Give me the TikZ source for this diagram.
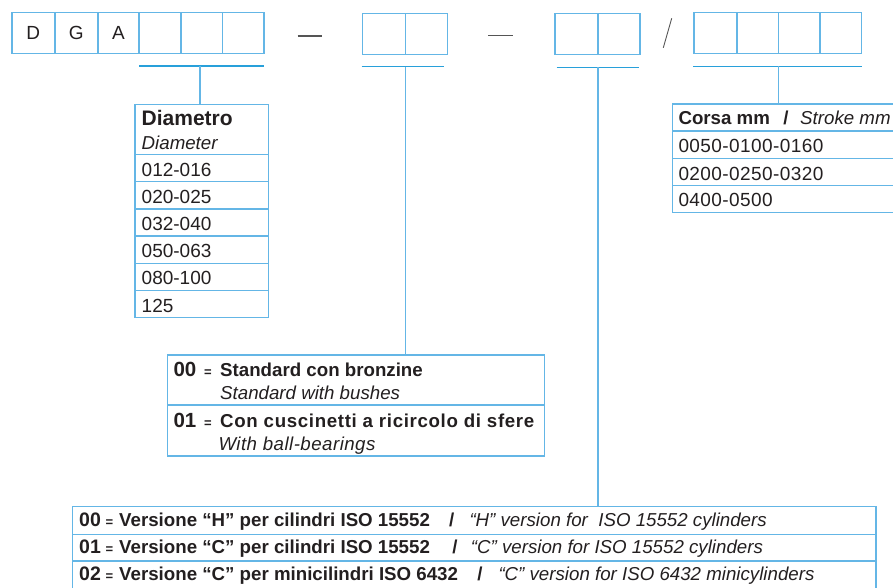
\documentclass[tikz,border=0pt]{standalone}
\usepackage{fontspec}
\setmainfont{Liberation Sans}
\definecolor{lb}{RGB}{100,182,230}
\definecolor{db}{RGB}{40,160,218}
\definecolor{tx}{RGB}{35,31,32}
\definecolor{gr}{RGB}{85,85,85}
\begin{document}
\begin{tikzpicture}[x=1pt,y=-1pt,
  cellbox/.style={draw=lb, line width=1.5pt, inner sep=0pt, anchor=north west, text=tx,
    font=\fontsize{19}{19}\selectfont},
  tline/.style={draw=lb, line width=1.3pt},
  uline/.style={draw=db, line width=1.2pt},
  rt/.style={anchor=base west, inner sep=0pt, text=tx, font=\fontsize{19}{19}\selectfont},
  bt/.style={anchor=base west, inner sep=0pt, text=tx, font=\fontsize{18.7}{19}\selectfont\bfseries},
  it/.style={anchor=base west, inner sep=0pt, text=tx, font=\fontsize{18.7}{19}\selectfont\itshape},
  eq/.style={anchor=base, inner sep=0pt, text=tx, font=\fontsize{13}{13}\selectfont\bfseries},
  sl/.style={anchor=base, inner sep=0pt, text=tx, font=\fontsize{18.7}{19}\selectfont\bfseries}]
\useasboundingbox (0,0) rectangle (893,588);
% group 1
\node[cellbox, minimum width=43pt, minimum height=40.7pt] (a1) at (11,12) {D};
\node[cellbox, minimum width=43pt, minimum height=40.7pt] (a2) at (54,12) {G};
\node[cellbox, minimum width=41.3pt, minimum height=40.7pt] (a3) at (97,12) {A};
\node[cellbox, minimum width=42pt, minimum height=40.7pt] (a4) at (138.3,12) {};
\node[cellbox, minimum width=41.4pt, minimum height=40.7pt] (a5) at (180.3,12) {};
\node[cellbox, minimum width=41.6pt, minimum height=40.7pt] (a6) at (221.7,12) {};
% group 2
\node[cellbox, minimum width=43pt, minimum height=41pt] (b1) at (361.7,12.7) {};
\node[cellbox, minimum width=42pt, minimum height=41pt] (b2) at (404.7,12.7) {};
% group 3
\node[cellbox, minimum width=43pt, minimum height=41pt] (c1) at (554.3,12.7) {};
\node[cellbox, minimum width=41.7pt, minimum height=41pt] (c2) at (597.3,12.7) {};
% group 4
\node[cellbox, minimum width=43pt, minimum height=41pt] (d1) at (693,11.7) {};
\node[cellbox, minimum width=41.7pt, minimum height=41pt] (d2) at (736,11.7) {};
\node[cellbox, minimum width=41.6pt, minimum height=41pt] (d3) at (777.7,11.7) {};
\node[cellbox, minimum width=41.4pt, minimum height=41pt] (d4) at (819.3,11.7) {};
% separators
\coordinate (s1a) at (297.7,36); \coordinate (s1b) at (321.7,36);
\coordinate (s2a) at (488.3,35.7); \coordinate (s2b) at (512.7,35.7);
\coordinate (s3a) at (663.3,47.7); \coordinate (s3b) at (671.7,18.3);
\draw[gr, line width=1.3pt] (s1a) -- (s1b);
\draw[gr, line width=1.3pt] (s2a) -- (s2b);
\draw[gr, line width=0.9pt] (s3a) -- (s3b);
% underlines and connectors
\coordinate (u1a) at (139,66); \coordinate (u1b) at (264,66); \coordinate (u1m) at (200,66);
\coordinate (u2a) at (361.7,66.7); \coordinate (u2b) at (444,66.7); \coordinate (u2m) at (405.3,66.7);
\coordinate (u3a) at (556.7,67.3); \coordinate (u3b) at (639,67.3); \coordinate (u3m) at (598,67.3);
\coordinate (u4a) at (693,66.3); \coordinate (u4b) at (861.7,66.3); \coordinate (u4m) at (778.7,66.3);
\coordinate (diamtop) at (200,104.3);
\coordinate (stdtop) at (405.3,355);
\coordinate (vertop) at (598,506.7);
\coordinate (strtop) at (778.7,104);
\draw[uline] (u1a) -- (u1b); \draw[tline] (u1m) -- (diamtop);
\draw[uline] (u2a) -- (u2b); \draw[tline] (u2m) -- (stdtop);
\draw[uline] (u3a) -- (u3b); \draw[tline] (u3m) -- (vertop);
\draw[uline] (u4a) -- (u4b); \draw[tline] (u4m) -- (strtop);
% Diametro table
\draw[tline] (135,104.3) rectangle (268.7,317.7);
\foreach \yy in {154.3,181.7,209,236,263.3,290.3} \draw[tline] (135,\yy) -- (268.7,\yy);
\node[bt, font=\fontsize{21}{21}\selectfont\bfseries] (dh1) at (141.5,126) {Diametro};
\node[it] (dh2) at (141.5,149.3) {Diameter};
\node[rt] (dr1) at (141.5,176) {012-016};
\node[rt] (dr2) at (141.5,203.3) {020-025};
\node[rt] (dr3) at (141.5,230.5) {032-040};
\node[rt] (dr4) at (141.5,257.8) {050-063};
\node[rt] (dr5) at (141.5,284.8) {080-100};
\node[rt] (dr6) at (141.5,312) {125};
% Stroke table
\draw[tline] (672.7,104) rectangle (905,212.3);
\foreach \yy in {131,158.3,185.7} \draw[tline] (672.7,\yy) -- (905,\yy);
\node[bt] (sh1) at (678.3,125) {Corsa mm};
\node[sl] (sh2) at (786,125) {/};
\node[it] (sh3) at (800,125) {Stroke mm};
\tikzset{srow/.style={rt, font=\fontsize{19}{19}\selectfont\addfontfeature{LetterSpace=2.2}}}
\node[srow] (sr1) at (678.3,152.7) {0050-0100-0160};
\node[srow] (sr2) at (678.3,180) {0200-0250-0320};
\node[srow] (sr3) at (678.3,206.7) {0400-0500};
% Standard table
\draw[tline] (167.3,355) rectangle (544.3,456);
\draw[tline] (167.3,405) -- (544.3,405);
\node[bt, font=\fontsize{20.5}{20}\selectfont\bfseries] (st0) at (173.3,376.7) {00};
\node[eq] (st0e) at (208,376.7) {=};
\node[bt] (st1) at (220,376.7) {Standard con bronzine};
\node[it] (st2) at (220,399) {Standard with bushes};
\node[bt, font=\fontsize{20.5}{20}\selectfont\bfseries] (st3) at (173.3,427) {01};
\node[eq] (st3e) at (208,427) {=};
\node[bt, font=\fontsize{18.7}{19}\selectfont\bfseries\addfontfeature{LetterSpace=3.5}] (st4) at (220,427) {Con cuscinetti a ricircolo di sfere};
\node[it, font=\fontsize{18.7}{19}\selectfont\itshape\addfontfeature{LetterSpace=2.5}] (st5) at (218.3,450) {With ball-bearings};
% Version table
\draw[tline] (72.7,506.7) rectangle (876,589);
\draw[tline] (72.7,534.3) -- (876,534.3);
\draw[tline] (72.7,561) -- (876,561);
\tikzset{vn/.style={bt, font=\fontsize{19.5}{19}\selectfont\bfseries}}
\node[vn] (v1n) at (79,526.7) {00};
\node[eq] (v1e) at (109.5,526.7) {=};
\node[bt] (v1a) at (119,526.7) {Versione “H” per cilindri ISO 15552};
\node[sl] (v1b) at (451.7,526.7) {/};
\node[it] (v1c) at (469.3,526.7) {“H” version for\ \ ISO 15552 cylinders};
\node[vn] (v2n) at (79,553.3) {01};
\node[eq] (v2e) at (109.5,553.3) {=};
\node[bt] (v2a) at (119,553.3) {Versione “C” per cilindri ISO 15552};
\node[sl] (v2b) at (455,553.3) {/};
\node[it] (v2c) at (470.7,553.3) {“C” version for ISO 15552 cylinders};
\node[vn] (v3n) at (79,580) {02};
\node[eq] (v3e) at (109.5,580) {=};
\node[bt] (v3a) at (119,580) {Versione “C” per minicilindri ISO 6432};
\node[sl] (v3b) at (480,580) {/};
\node[it] (v3c) at (498.3,580) {“C” version for ISO 6432 minicylinders};
\end{tikzpicture}
\end{document}
